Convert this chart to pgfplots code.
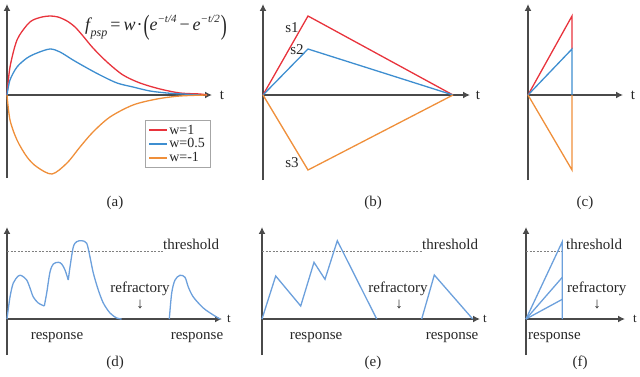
\documentclass[border=0pt]{standalone}
\usepackage{fontspec}
\setmainfont{Liberation Serif}
\usepackage{graphicx}
\usepackage{pgfplots}
\pgfplotsset{compat=1.18}
\usetikzlibrary{arrows.meta}

\definecolor{cred}{HTML}{E8333C}
\definecolor{cblue}{HTML}{3E8ED0}
\definecolor{corange}{HTML}{EF8F3A}
\definecolor{clight}{HTML}{6CA0DC}
\definecolor{axgray}{HTML}{4A4A4A}
\definecolor{txt}{HTML}{262626}

\pgfplotsset{
  panel/.style={
    anchor=origin, x=1pt, y=1pt,
    axis lines=middle, enlargelimits=false, clip=false,
    xtick=\empty, ytick=\empty,
    axis line style={line width=1.4pt, color=axgray},
    x axis line style={-{Latex[length=7pt,width=7pt]}},
    y axis line style={-{Latex[length=7pt,width=7pt]}},
    every axis plot/.append style={line width=1.3pt},
  },
}
\tikzset{
  lbl/.style={font=\fontsize{15}{18}\selectfont, text=txt, inner sep=0pt},
  sml/.style={font=\fontsize{13}{15}\selectfont, text=txt, inner sep=0pt},
  thr/.style={gray, line width=0.7pt, dash pattern=on 2pt off 1.5pt},
}
\newcommand{\bigparen}[1]{\raisebox{-0.22em}{\scalebox{1}[1.55]{\upshape #1}}}
\newcommand{\sups}[1]{\raisebox{0.45em}{\fontsize{11}{11}\selectfont #1}}

\begin{document}
\begin{tikzpicture}
\useasboundingbox (0,0) rectangle (640pt,376pt);

% (a) psp kernel
\begin{axis}[panel, at={(7pt,281pt)},
    xmin=0, xmax=205, ymin=-83, ymax=91,
    legend style={at={(0.673,0.333)}, anchor=north west, draw=gray!70,
      line width=0.6pt, font=\fontsize{14}{15}\selectfont, text=txt,
      inner xsep=4pt, inner ysep=2.5pt, row sep=-1pt},
    legend cell align=left,
    legend image code/.code={\fill[#1, draw=none] (0pt,-0.8pt) rectangle (18pt,0.8pt);},
]
\addplot[cred, smooth] coordinates {
  (0,0) (3,28) (10,55) (20,70) (26,75) (35,78) (43,79) (51,78) (60,74)
  (68,68) (76,59) (86,47) (100,33) (116,20) (133,12) (153,6) (173,2) (193,1) (200,0)
};
\addlegendentry{w=1}
\addplot[cblue, smooth] coordinates {
  (0,0) (3,15) (10,28) (20,37) (30,42) (43,46) (53,43) (66,35) (80,27)
  (93,20) (110,12) (126,8) (143,4) (160,2) (176,1) (193,0)
};
\addlegendentry{w=0.5}
\addplot[corange, smooth] coordinates {
  (0,0) (3,-25) (10,-45) (20,-62) (30,-72) (45,-79) (60,-68) (73,-52)
  (86,-37) (103,-22) (126,-10) (150,-4) (173,-1) (200,0)
};
\addlegendentry{w=-1}
\node[lbl] at (axis cs:215,0) {t};
\node[font=\fontsize{18}{20}\selectfont, text=txt, inner sep=0pt] at (axis cs:149,67)
  {\itshape f\kern0.5pt\raisebox{-0.3em}{\fontsize{12}{12}\selectfont psp}\kern3pt{\upshape =}\kern3pt w\kern1pt{\upshape ·}\kern1pt\bigparen{(}e\sups{−t/4}\kern3pt{\upshape −}\kern3pt e\sups{−t/2}\kern1pt\bigparen{)}};
\node[lbl] at (axis cs:108,-108) {(a)};
\end{axis}

% (b) piecewise linear
\begin{axis}[panel, at={(263pt,281pt)},
    xmin=0, xmax=207, ymin=-85, ymax=91]
\addplot[cred] coordinates {(0,0) (45,79) (190,0)};
\addplot[cblue] coordinates {(0,0) (45,46) (190,0)};
\addplot[corange] coordinates {(0,0) (45,-75) (190,0)};
\node[lbl] at (axis cs:29,67) {s1};
\node[lbl] at (axis cs:34,45) {s2};
\node[lbl] at (axis cs:29,-68) {s3};
\node[lbl] at (axis cs:215,0) {t};
\node[lbl] at (axis cs:110,-108) {(b)};
\end{axis}

% (c) ramp and reset
\begin{axis}[panel, at={(528pt,281pt)},
    xmin=0, xmax=95, ymin=-85, ymax=91]
\addplot[cred] coordinates {(0,0) (44,79) (44,46)};
\addplot[cblue] coordinates {(0,0) (44,46) (44,0)};
\addplot[corange] coordinates {(0,0) (44,-75) (44,0)};
\node[lbl] at (axis cs:105,0) {t};
\node[lbl] at (axis cs:57,-108) {(c)};
\end{axis}

% (d) smooth response
\begin{axis}[panel, at={(7pt,57pt)},
    xmin=0, xmax=215, ymin=-36, ymax=92]
\addplot[thr] coordinates {(0,68) (156,68)};
\addplot[clight, smooth] coordinates {
  (0,0) (3,22) (6.3,36) (11.3,43) (14.7,43.3) (19.7,39) (23,31) (26.3,22) (31.3,16) (37.3,13)
};
\addplot[clight, smooth] coordinates {
  (37.3,13) (39.7,26) (43,47) (46.3,55) (51.3,56.7) (54.7,55) (58,49) (61.3,39)
};
\addplot[clight, smooth] coordinates {
  (61.3,39) (63,52) (66.3,72) (69.7,77.3) (74.7,78.3) (79.7,75.7) (83,62) (86.3,46)
  (91.3,29) (96.3,16) (103,6) (109.7,1) (114.7,0)
};
\addplot[clight, smooth] coordinates {
  (162.3,0) (164.7,26) (168,39) (173,43.7) (178,41.7) (181.3,32) (186.3,22)
  (196.3,11) (206.3,4) (213,0)
};
\node[lbl, anchor=base west] at (axis cs:156,69) {threshold};
\node[lbl, anchor=base] at (axis cs:133,27) {refractory};
\node[lbl] at (axis cs:133,14) {↓};
\node[lbl, anchor=base] at (axis cs:50,-20) {response};
\node[lbl, anchor=base] at (axis cs:190,-20) {response};
\node[sml] at (axis cs:222,0) {t};
\node[lbl] at (axis cs:108,-44) {(d)};
\end{axis}

% (e) linear response
\begin{axis}[panel, at={(262pt,57pt)},
    xmin=0, xmax=218, ymin=-36, ymax=92]
\addplot[thr] coordinates {(0,68) (160,68)};
\addplot[clight] coordinates {
  (0,0) (13.7,43) (38.7,13) (52,56.7) (63,39.7) (75.3,78.3) (114.7,0)
};
\addplot[clight] coordinates {(159.7,0) (172.3,44) (210.7,0)};
\node[lbl, anchor=base west] at (axis cs:160,69) {threshold};
\node[lbl, anchor=base] at (axis cs:136,27) {refractory};
\node[lbl] at (axis cs:137,14) {↓};
\node[lbl, anchor=base] at (axis cs:54,-20) {response};
\node[lbl, anchor=base] at (axis cs:190,-20) {response};
\node[sml] at (axis cs:223,0) {t};
\node[lbl] at (axis cs:111,-44) {(e)};
\end{axis}

% (f) ramp to threshold
\begin{axis}[panel, at={(526pt,57pt)},
    xmin=0, xmax=99, ymin=-36, ymax=92]
\addplot[thr] coordinates {(0,68) (36,68)};
\addplot[clight] coordinates {(0,0) (36.3,77.3) (36.3,0)};
\addplot[clight] coordinates {(0,0) (36.3,41.7)};
\addplot[clight] coordinates {(0,0) (36.3,19.7)};
\node[lbl, anchor=base west] at (axis cs:40,69) {threshold};
\node[lbl, anchor=base west] at (axis cs:41,27) {refractory};
\node[lbl] at (axis cs:71,14) {↓};
\node[lbl, anchor=base west] at (axis cs:2,-20) {response};
\node[sml] at (axis cs:109,0) {t};
\node[lbl] at (axis cs:54,-44) {(f)};
\end{axis}
\end{tikzpicture}
\end{document}
